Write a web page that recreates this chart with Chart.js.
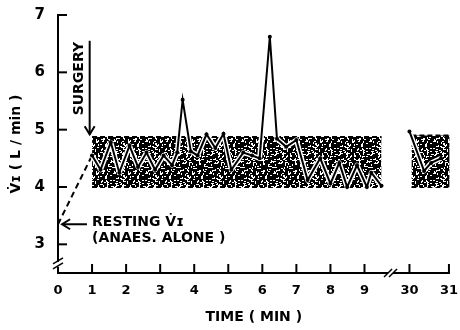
<!DOCTYPE html>
<html>
<head>
<meta charset="utf-8">
<script src="https://cdn.jsdelivr.net/npm/chart.js@4"></script>
<style>
  body { margin: 0; background: #fff; }
  #wrap { width: 460px; height: 330px; }
</style>
</head>
<body>
<div id="wrap"><canvas id="viChart"></canvas></div>
<script>
// minute readings, first 9.5 min of surgery
const time1 = [1.0, 1.25, 1.55, 1.8, 2.1, 2.35, 2.6, 2.85, 3.1, 3.35, 3.5, 3.66, 3.9, 4.1,
  4.36, 4.62, 4.86, 5.09, 5.44, 5.7, 5.92, 6.22, 6.43, 6.7, 7.0, 7.33, 7.7, 8.0, 8.26,
  8.49, 8.78, 9.07, 9.2, 9.5];
const vi1 = [4.55, 4.3, 4.78, 4.25, 4.72, 4.35, 4.6, 4.3, 4.55, 4.38, 4.6, 5.52, 4.62, 4.55,
  4.92, 4.68, 4.93, 4.3, 4.6, 4.55, 4.5, 6.62, 4.84, 4.7, 4.82, 4.12, 4.5, 4.06, 4.42,
  4.0, 4.38, 4.0, 4.25, 4.02];
// readings at 30-31 min
const time2 = [30.0, 30.37, 30.55, 30.8];
const vi2 = [4.97, 4.28, 4.42, 4.5];
// resting value under anaesthesia alone
const restTime = [0, 1.0];
const restVi = [3.35, 4.55];
// shaded ranges
const bandStart = [1.0, 30.05];
const bandEnd = [9.5, 31.1];
const bandLow = [4.0, 4.0];
const bandHigh = [4.87, 4.9];

const xTickTimes = [0, 1, 2, 3, 4, 5, 6, 7, 8, 9, 30, 31];
const xTickLabels = ['0', '1', '2', '3', '4', '5', '6', '7', '8', '9', '30', '31'];
const yTicks = [3, 4, 5, 6, 7];

// broken time axis: 30 min sits just after 9.5
function axisX(t) {
  return t < 20 ? t : 10.32 + (t - 30) * 1.16;
}

function pts(ts, vs) {
  return ts.map((t, i) => ({ x: axisX(t), y: vs[i] }));
}

function stipple() {
  const c = document.createElement('canvas');
  c.width = 32; c.height = 32;
  const g = c.getContext('2d');
  g.fillStyle = '#000';
  g.fillRect(0, 0, 32, 32);
  g.fillStyle = '#fff';
  let seed = 12345;
  const next = () => (seed = (seed * 16807) % 2147483647);
  for (let i = 0; i < 150; i++) {
    const px = next() % 32;
    const py = next() % 32;
    if (next() % 2) g.fillRect(px, py, 2, 1);
    else g.fillRect(px, py, 1, 2);
  }
  return g.createPattern(c, 'repeat');
}

const FONT = 'DejaVu Sans';
const pattern = stipple();

const datasets = [
  { data: pts(time1, vi1), borderColor: '#000', borderWidth: 2, pointRadius: 2,
    pointBackgroundColor: '#000', pointBorderWidth: 0, tension: 0 },
  { data: pts(time2, vi2), borderColor: '#000', borderWidth: 2, pointRadius: 2,
    pointBackgroundColor: '#000', pointBorderWidth: 0, tension: 0 },
  { data: pts(time1, vi1), borderColor: '#fff', borderWidth: 5, pointRadius: 0,
    borderJoinStyle: 'round' },
  { data: pts(time2, vi2), borderColor: '#fff', borderWidth: 5, pointRadius: 0,
    borderJoinStyle: 'round' },
  { data: pts(restTime, restVi), borderColor: '#000', borderWidth: 2, borderDash: [6, 4],
    pointRadius: 0 }
];
bandStart.forEach((s, i) => {
  datasets.push({
    data: pts([s, bandEnd[i]], [bandHigh[i], bandHigh[i]]),
    borderColor: '#000', borderWidth: 2, borderDash: [5, 3], pointRadius: 0,
    backgroundColor: pattern, fill: '+1'
  });
  datasets.push({
    data: pts([s, bandEnd[i]], [bandLow[i], bandLow[i]]),
    borderColor: '#000', borderWidth: 2, borderDash: [5, 3], pointRadius: 0
  });
});

function arrowHead(ctx, x, y, dir) {
  ctx.beginPath();
  if (dir === 'down') {
    ctx.moveTo(x - 5, y - 8); ctx.lineTo(x, y); ctx.lineTo(x + 5, y - 8);
  } else {
    ctx.moveTo(x + 8, y - 5); ctx.lineTo(x, y); ctx.lineTo(x + 8, y + 5);
  }
  ctx.stroke();
}

const axisDecor = {
  id: 'axisDecor',
  afterDraw(chart) {
    const { ctx, chartArea: a, scales: { x, y } } = chart;
    ctx.save();
    ctx.strokeStyle = '#000';
    ctx.lineWidth = 2;
    // inside tick marks
    xTickTimes.forEach(t => {
      if (t === 0) return;
      const px = x.getPixelForValue(axisX(t));
      ctx.beginPath(); ctx.moveTo(px, a.bottom); ctx.lineTo(px, a.bottom - 9); ctx.stroke();
    });
    yTicks.forEach(v => {
      const py = y.getPixelForValue(v);
      ctx.beginPath(); ctx.moveTo(a.left, py); ctx.lineTo(a.left + 9, py); ctx.stroke();
    });
    // axis breaks
    const bx = x.getPixelForValue(9.78);
    ctx.fillStyle = '#fff';
    ctx.fillRect(bx - 3, a.bottom - 3, 5, 6);
    ctx.lineWidth = 1.5;
    [-3, 2].forEach(d => {
      ctx.beginPath(); ctx.moveTo(bx + d - 4, a.bottom + 4); ctx.lineTo(bx + d + 4, a.bottom - 4); ctx.stroke();
    });
    const by = y.getPixelForValue(2.66);
    ctx.fillRect(a.left - 3, by - 2, 6, 5);
    [-3, 2].forEach(d => {
      ctx.beginPath(); ctx.moveTo(a.left - 5, by + d + 3); ctx.lineTo(a.left + 5, by + d - 3); ctx.stroke();
    });

    // SURGERY marker
    ctx.lineWidth = 2;
    const sx = x.getPixelForValue(0.93);
    const sTop = y.getPixelForValue(6.55);
    const sTip = y.getPixelForValue(4.92);
    ctx.beginPath(); ctx.moveTo(sx, sTop); ctx.lineTo(sx, sTip); ctx.stroke();
    arrowHead(ctx, sx, sTip, 'down');
    ctx.fillStyle = '#000';
    ctx.font = 'bold 14px "' + FONT + '"';
    ctx.save();
    ctx.translate(sx - 10, y.getPixelForValue(5.89));
    ctx.rotate(-Math.PI / 2);
    ctx.textAlign = 'center';
    ctx.textBaseline = 'middle';
    ctx.fillText('SURGERY', 0, 0);
    ctx.restore();

    // resting marker
    const ry = y.getPixelForValue(3.35);
    const rx0 = x.getPixelForValue(0.12);
    const rx1 = x.getPixelForValue(0.85);
    ctx.beginPath(); ctx.moveTo(rx0, ry); ctx.lineTo(rx1, ry); ctx.stroke();
    arrowHead(ctx, rx0, ry, 'left');
    ctx.textAlign = 'left';
    ctx.textBaseline = 'middle';
    const tx = x.getPixelForValue(1.0);
    ctx.fillText('RESTING V\u0307\u026A', tx, ry - 2);
    ctx.fillText('(ANAES. ALONE )', tx, ry + 14);
    ctx.restore();
  }
};

new Chart(document.getElementById('viChart'), {
  type: 'line',
  data: { datasets },
  options: {
    responsive: true,
    maintainAspectRatio: false,
    animation: false,
    layout: { padding: { top: 15, right: -4, left: 0, bottom: 0 } },
    plugins: { legend: { display: false }, tooltip: { enabled: false } },
    scales: {
      x: {
        type: 'linear', min: 0, max: 11.5,
        afterBuildTicks: s => { s.ticks = xTickTimes.map(t => ({ value: axisX(t) })); },
        afterFit: s => { s.height = 57; },
        grid: { display: false },
        border: { display: true, color: '#000', width: 2 },
        ticks: {
          color: '#000', padding: 2, maxRotation: 0, autoSkip: false,
          font: { family: FONT, size: 13, weight: 'bold' },
          callback: (v, i) => xTickLabels[i]
        },
        title: {
          display: true, text: 'TIME ( MIN )', color: '#000',
          font: { family: FONT, size: 14, weight: 'bold' }, padding: { top: 17 }
        }
      },
      y: {
        min: 2.5, max: 7,
        afterBuildTicks: s => { s.ticks = yTicks.map(v => ({ value: v })); },
        afterFit: s => { s.width = 58; },
        grid: { display: false },
        border: { display: true, color: '#000', width: 2 },
        ticks: {
          color: '#000', padding: 5,
          font: { family: FONT, size: 15, weight: 'bold' }
        },
        title: {
          display: true, text: 'V\u0307\u026A ( L / min )', color: '#000',
          font: { family: FONT, size: 14, weight: 'bold' }, padding: { bottom: 0, top: 8 }
        }
      }
    }
  },
  plugins: [axisDecor]
});
</script>
</body>
</html>
